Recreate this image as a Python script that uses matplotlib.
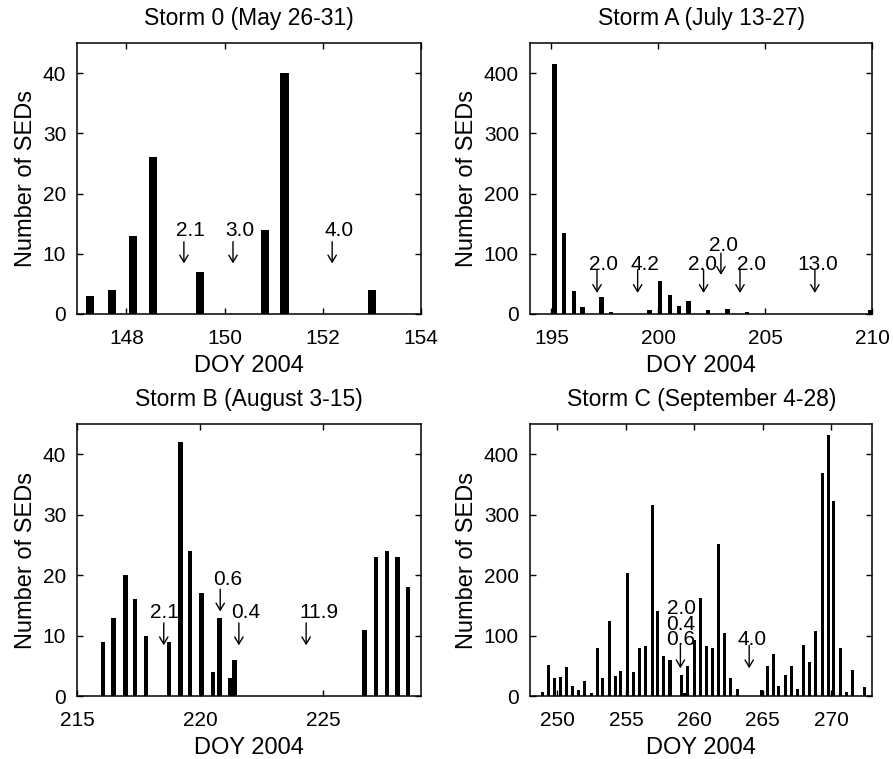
import matplotlib
matplotlib.use("Agg")
import matplotlib.pyplot as plt

plt.rcParams['font.family'] = ['Liberation Sans', 'DejaVu Sans']

# Storm 0
days_0 = [147.25, 147.70, 148.14, 148.55, 149.49, 150.83, 151.22, 153.01]
counts_0 = [3, 4, 13, 26, 7, 14, 40, 4]
labels_0 = ["2.1", "3.0", "4.0"]
text_x_0 = [149.30, 150.31, 152.33]
text_y_0 = [13.8, 13.8, 13.8]
arrow_x_0 = [149.17, 150.17, 152.19]
arrow_top_0 = [12.0, 12.0, 12.0]
arrow_tip_0 = [8.4, 8.4, 8.4]

# Storm A
days_a = [195.15, 195.58, 196.04, 196.45, 197.34, 197.78, 199.58, 200.09,
          200.53, 200.95, 201.40, 202.31, 203.23, 204.13, 209.88]
counts_a = [415, 135, 39, 11, 29, 3, 6, 55, 32, 13, 21, 7, 8, 4, 7]
labels_a = ["2.0", "4.2", "2.0", "2.0", "2.0", "13.0"]
text_x_a = [197.44, 199.35, 202.05, 203.05, 204.35, 207.44]
text_y_a = [83, 83, 83, 113, 83, 83]
arrow_x_a = [197.13, 199.03, 202.11, 202.92, 203.81, 207.31]
arrow_top_a = [73.5, 73.5, 73.5, 101, 73.5, 73.5]
arrow_tip_a = [35, 35, 35, 65, 35, 35]

# Storm B
days_b = [216.05, 216.48, 216.96, 217.35, 217.80, 218.74, 219.20, 219.59,
          220.06, 220.53, 220.79, 221.23, 221.41, 226.70, 227.16, 227.61,
          228.03, 228.47]
counts_b = [9, 13, 20, 16, 10, 9, 42, 24, 17, 4, 13, 3, 6, 11, 23, 24, 23, 18]
labels_b = ["2.1", "0.6", "0.4", "11.9"]
text_x_b = [218.54, 221.11, 221.84, 224.83]
text_y_b = [13.8, 19.3, 13.8, 13.8]
arrow_x_b = [218.52, 220.82, 221.58, 224.32]
arrow_top_b = [12.1, 17.7, 12.1, 12.1]
arrow_tip_b = [8.4, 14.0, 8.4, 8.4]

# Storm C
days_c = [248.89, 249.33, 249.80, 250.22, 250.69, 251.11, 251.51, 251.99,
          252.51, 252.90, 253.31, 253.78, 254.24, 254.63, 255.14, 255.53,
          255.99, 256.46, 256.91, 257.31, 257.76, 258.22, 259.09, 259.30,
          259.50, 259.99, 260.42, 260.86, 261.30, 261.78, 262.17, 262.61,
          263.12, 264.92, 265.33, 265.76, 266.17, 266.65, 267.07, 267.51,
          267.98, 268.40, 268.84, 269.32, 269.78, 270.19, 270.65, 271.09,
          271.55, 272.45]
counts_c = [7, 52, 29, 32, 48, 17, 10, 25, 5, 80, 30, 124, 33, 42, 204, 39,
            80, 83, 316, 141, 66, 60, 34, 5, 49, 93, 162, 82, 80, 251, 105, 30,
            12, 10, 49, 70, 17, 34, 49, 11, 84, 56, 108, 370, 432, 323, 79, 7,
            43, 15]
labels_c = ["2.0", "0.4", "0.6", "4.0"]
text_x_c = [259.03, 259.03, 259.03, 264.18]
text_y_c = [145, 119, 94, 94]
arrow_x_c = [258.98, 264.0]
arrow_top_c = [84, 84]
arrow_tip_c = [46, 46]

panels = [
    ("Storm 0 (May 26-31)", days_0, counts_0, 0.165, (147, 154), [148, 150, 152, 154], 45, [0, 10, 20, 30, 40],
     labels_0, text_x_0, text_y_0, arrow_x_0, arrow_top_0, arrow_tip_0),
    ("Storm A (July 13-27)", days_a, counts_a, 0.2, (194, 210), [195, 200, 205, 210], 450, [0, 100, 200, 300, 400],
     labels_a, text_x_a, text_y_a, arrow_x_a, arrow_top_a, arrow_tip_a),
    ("Storm B (August 3-15)", days_b, counts_b, 0.19, (215, 229), [215, 220, 225], 45, [0, 10, 20, 30, 40],
     labels_b, text_x_b, text_y_b, arrow_x_b, arrow_top_b, arrow_tip_b),
    ("Storm C (September 4-28)", days_c, counts_c, 0.22, (248, 273), [250, 255, 260, 265, 270], 450, [0, 100, 200, 300, 400],
     labels_c, text_x_c, text_y_c, arrow_x_c, arrow_top_c, arrow_tip_c),
]

rects = [
    [0.0866, 0.5863, 0.3849, 0.3570],
    [0.5935, 0.5863, 0.3835, 0.3570],
    [0.0866, 0.0830, 0.3849, 0.3580],
    [0.5935, 0.0830, 0.3835, 0.3580],
]

fig = plt.figure(figsize=(8.93, 7.59), dpi=100)

for rect, p in zip(rects, panels):
    (title, days, counts, width, xlim, xticks, ytop, yticks,
     labels, tx, ty, ax_x, ay0, ay1) = p
    ax = fig.add_axes(rect)
    ax.bar(days, counts, width=width, color='black', align='center')
    ax.set_xlim(*xlim)
    ax.set_ylim(0, ytop)
    ax.set_xticks(xticks)
    ax.set_yticks(yticks)
    ax.tick_params(direction='in', length=4, width=1, labelsize=15,
                   top=True, right=True)
    ax.tick_params(axis='x', pad=10.5)
    ax.tick_params(axis='y', pad=8)
    for s in ax.spines.values():
        s.set_linewidth(1.1)
    ax.set_title(title, fontsize=16.5, pad=13)
    ax.set_xlabel("DOY 2004", fontsize=17, labelpad=5.5)
    ax.set_ylabel("Number of SEDs", fontsize=17, labelpad=4)

    for lab, x, y in zip(labels, tx, ty):
        ax.text(x, y, lab, fontsize=15, ha='center', va='center')
    for x, y0, y1 in zip(ax_x, ay0, ay1):
        ax.annotate('', xy=(x, y1), xytext=(x, y0),
                    arrowprops=dict(arrowstyle='->,head_length=0.5,head_width=0.3',
                                    lw=1.0, color='black', shrinkA=0, shrinkB=0))

fig.savefig("out.png", dpi=100)
